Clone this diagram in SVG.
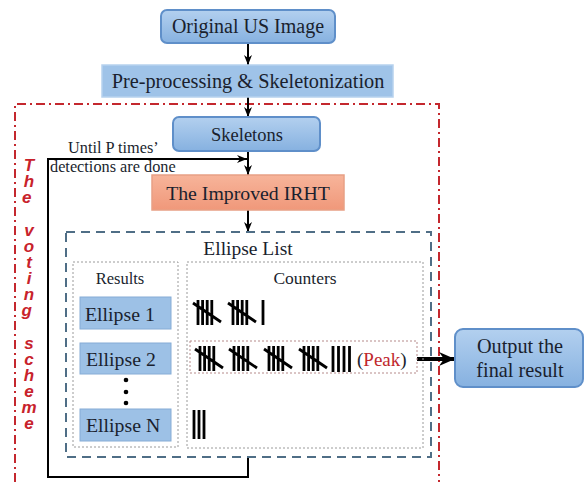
<svg xmlns="http://www.w3.org/2000/svg" width="584" height="482" viewBox="0 0 584 482">
<defs>
<linearGradient id="gBlue" x1="0" y1="0" x2="0" y2="1">
<stop offset="0" stop-color="#b3d0ef"/>
<stop offset="1" stop-color="#86b1e0"/>
</linearGradient>
<linearGradient id="gOrange" x1="0" y1="0" x2="0" y2="1">
<stop offset="0" stop-color="#f7b49a"/>
<stop offset="1" stop-color="#f0987a"/>
</linearGradient>
<marker id="ah" markerUnits="userSpaceOnUse" markerWidth="10" markerHeight="10" viewBox="0 0 10 10" refX="10" refY="5" orient="auto">
<path d="M0,1 L10,5 L0,9 L3,5 Z" fill="#000"/>
</marker>
<marker id="ahBig" markerUnits="userSpaceOnUse" markerWidth="16" markerHeight="16" viewBox="0 0 16 16" refX="16" refY="8" orient="auto">
<path d="M0,1 L16,8 L0,15 L5,8 Z" fill="#000"/>
</marker>
<g id="tally5">
<path d="M0,0 V25 M4.6,0 V25 M9.2,0 V25 M13.8,0 V25 M-5,3 L23,22" stroke="#000" stroke-width="2.8" fill="none"/>
</g>
</defs>
<style>
.t{font-family:"Liberation Serif","Times New Roman",serif;fill:#1a1f2e}
.c{text-anchor:middle}
.rbox{fill:url(#gBlue);stroke:#5f8fc9;stroke-width:2}
.flat{fill:#9fc3e8;stroke:#b7d2ee;stroke-width:1.5}
.ell{fill:#9dc1e6;stroke:#86acd6;stroke-width:1}
.conn{stroke:#000;stroke-width:2;fill:none}
.dot{fill:none;stroke:#9a9a9a;stroke-width:1;stroke-dasharray:2 2}
.bar{stroke:#000;stroke-width:2.8}
</style>

<!-- voting scheme boundary -->
<g id="voting-scheme">
<path d="M15,482 V104 H439 V482" fill="none" stroke="#c4282e" stroke-width="2" stroke-dasharray="9 4 2 4"/>
<text font-family="'Liberation Sans',Arial,sans-serif" font-weight="bold" font-style="italic" font-size="17" fill="#c8222b" text-anchor="middle">
<tspan x="29" y="171">T</tspan><tspan x="29" y="187">h</tspan><tspan x="29" y="203">e</tspan>
<tspan x="29" y="236">v</tspan><tspan x="29" y="252">o</tspan><tspan x="29" y="268">t</tspan><tspan x="29" y="284">i</tspan><tspan x="29" y="300">n</tspan><tspan x="29" y="316">g</tspan>
<tspan x="29" y="349">s</tspan><tspan x="29" y="365">c</tspan><tspan x="29" y="381">h</tspan><tspan x="29" y="397">e</tspan><tspan x="29" y="413">m</tspan><tspan x="29" y="429">e</tspan>
</text>
</g>

<!-- connectors -->
<g id="connectors">
<line class="conn" x1="248" y1="43" x2="248" y2="65" marker-end="url(#ah)"/>
<line class="conn" x1="248" y1="97" x2="248" y2="117" marker-end="url(#ah)"/>
<line class="conn" x1="248" y1="151" x2="248" y2="175" marker-end="url(#ah)"/>
<line class="conn" x1="248" y1="210" x2="248" y2="232" marker-end="url(#ah)"/>
<path class="conn" d="M248,457 V477 H48 V159 H247" marker-end="url(#ah)"/>
<line x1="417" y1="359" x2="455" y2="359" stroke="#000" stroke-width="4" marker-end="url(#ahBig)"/>
<text class="t" x="68" y="153" font-size="16.3">Until P times’</text>
<text class="t" x="50" y="172" font-size="16.3">detections are done</text>
</g>

<g id="original">
<rect class="rbox" x="161" y="10" width="174" height="33" rx="6"/>
<text class="t c" x="248" y="33" font-size="20">Original US Image</text>
</g>

<g id="preprocessing">
<rect class="flat" x="102" y="65" width="291" height="32"/>
<text class="t c" x="248" y="88" font-size="20.3">Pre-processing &amp; Skeletonization</text>
</g>

<g id="skeletons">
<rect class="rbox" x="173" y="117" width="147" height="34" rx="6"/>
<text class="t c" x="247" y="141" font-size="18.5">Skeletons</text>
</g>

<g id="irht">
<rect x="152" y="175" width="192" height="35" fill="url(#gOrange)" stroke="#e8a085" stroke-width="1.5"/>
<text class="t c" x="248" y="200" font-size="19.8">The Improved IRHT</text>
</g>

<g id="ellipse-list">
<rect x="66" y="232" width="365" height="225" fill="none" stroke="#4f6e86" stroke-width="2" stroke-dasharray="9 6"/>
<text class="t c" x="248" y="255" font-size="19.5">Ellipse List</text>
</g>

<g id="results">
<rect class="dot" x="73" y="262" width="105" height="185"/>
<text class="t c" x="120" y="284" font-size="16.5">Results</text>
</g>

<g id="ellipse1">
<rect class="ell" x="80" y="297" width="91" height="32"/>
<text class="t" x="85" y="321" font-size="19.8">Ellipse 1</text>
</g>

<g id="ellipse2">
<rect class="ell" x="80" y="343" width="91" height="31"/>
<text class="t" x="86" y="366" font-size="19.8">Ellipse 2</text>
</g>

<g id="vdots">
<circle cx="126" cy="380" r="2.3" fill="#000"/>
<circle cx="126" cy="392" r="2.3" fill="#000"/>
<circle cx="126" cy="403" r="2.3" fill="#000"/>
</g>

<g id="ellipseN">
<rect class="ell" x="80" y="409" width="91" height="32"/>
<text class="t" x="86" y="432" font-size="19.8">Ellipse N</text>
</g>

<g id="counters">
<rect class="dot" x="187" y="262" width="236" height="186"/>
<text class="t c" x="305" y="284" font-size="17.5">Counters</text>
</g>

<g id="counter1">
<use href="#tally5" x="198" y="300"/>
<use href="#tally5" x="233" y="300"/>
<line class="bar" x1="263" y1="300" x2="263" y2="325"/>
</g>

<g id="counter2">
<rect x="190" y="341" width="227" height="32" fill="none" stroke="#b58a8a" stroke-width="1" stroke-dasharray="2 2"/>
<use href="#tally5" x="200" y="346"/>
<use href="#tally5" x="234" y="346"/>
<use href="#tally5" x="269" y="346"/>
<use href="#tally5" x="304" y="346"/>
<path d="M333,346 V372 M338.5,346 V372 M344,346 V372 M349.5,346 V372" stroke="#000" stroke-width="2.8"/>
<text class="t" x="357" y="366" font-size="19">(<tspan fill="#c0282d">Peak</tspan>)</text>
</g>

<g id="counterN">
<path d="M194,410 V439 M199,410 V439 M204,410 V439" stroke="#000" stroke-width="2.8"/>
</g>

<g id="output">
<rect class="rbox" x="455" y="329" width="128" height="58" rx="8"/>
<text class="t c" x="520" y="353" font-size="20.3">Output the</text>
<text class="t c" x="520" y="377" font-size="20.3">final result</text>
</g>
</svg>
